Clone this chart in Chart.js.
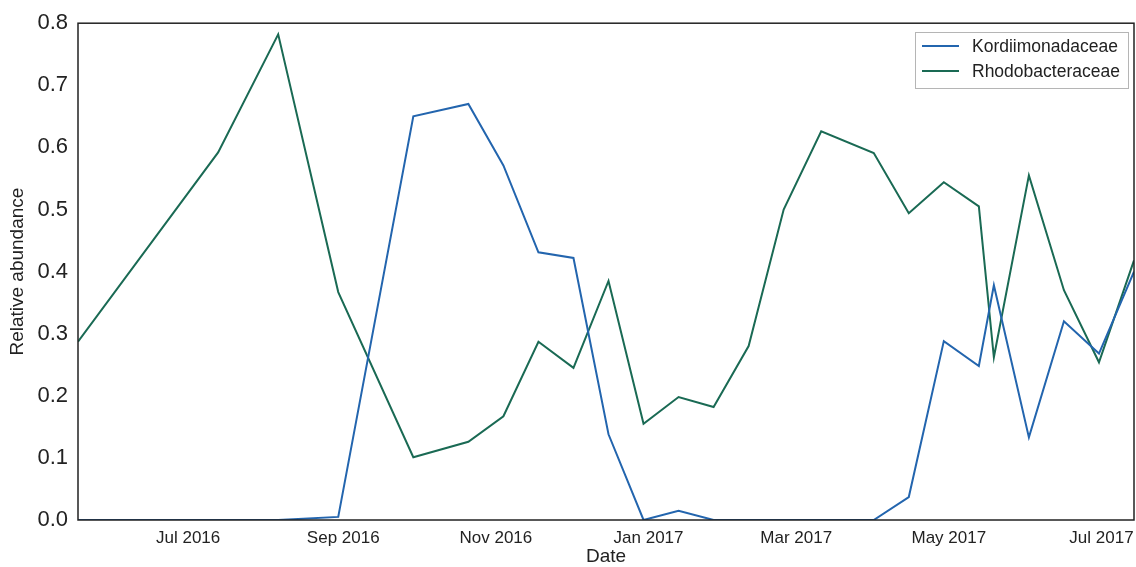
<!DOCTYPE html>
<html>
<head>
<meta charset="utf-8">
<script src="https://cdn.jsdelivr.net/npm/chart.js@4.4.1/dist/chart.umd.min.js"></script>
<style>
html,body{margin:0;padding:0;background:#fff;}
#wrap{width:1136px;height:567px;position:relative;}
</style>
</head>
<body>
<div id="wrap"><canvas id="c"></canvas></div>
<script>
// ---- data ----
const sampleDates = [
  '2016-05-18','2016-07-13','2016-08-06','2016-08-30','2016-09-29','2016-10-21',
  '2016-11-04','2016-11-18','2016-12-02','2016-12-16','2016-12-30','2017-01-13',
  '2017-01-27','2017-02-10','2017-02-24','2017-03-11','2017-04-01','2017-04-15',
  '2017-04-29','2017-05-13','2017-05-19','2017-06-02','2017-06-16','2017-06-30',
  '2017-07-14'
];
const kordiimonadaceae = [
  0.0, 0.0, 0.0, 0.005, 0.65, 0.67,
  0.571, 0.431, 0.422, 0.138, 0.0, 0.015,
  0.0, 0.0, 0.0, 0.0, 0.0, 0.037,
  0.288, 0.248, 0.378, 0.133, 0.32, 0.268,
  0.40
];
const rhodobacteraceae = [
  0.287, 0.592, 0.782, 0.367, 0.101, 0.126,
  0.167, 0.287, 0.245, 0.385, 0.155, 0.198,
  0.182, 0.28, 0.50, 0.626, 0.591, 0.494,
  0.544, 0.505, 0.262, 0.555, 0.37, 0.254,
  0.418
];
const seriesNames = ['Kordiimonadaceae', 'Rhodobacteraceae'];
const seriesColors = ['#2365ae', '#1a6a54'];
const tickDates = ['2016-07-01','2016-09-01','2016-11-01','2017-01-01','2017-03-01','2017-05-01','2017-07-01'];
const tickLabels = ['Jul 2016','Sep 2016','Nov 2016','Jan 2017','Mar 2017','May 2017','Jul 2017'];
const yMin = 0, yMax = 0.8, yStep = 0.1;

// ---- helpers ----
function toDay(s){ const p = s.split('-').map(Number); return Date.UTC(p[0], p[1]-1, p[2]) / 86400000; }
const tickDays = tickDates.map(toDay);
function pts(values){ return sampleDates.map((d,i)=>({x: toDay(d), y: values[i]})); }

const FONT = '"Liberation Sans", Arial, Helvetica, sans-serif';
const INK = '#222';

const framePlugin = {
  id: 'frameAndLegend',
  afterDraw(chart){
    const ctx = chart.ctx, a = chart.chartArea;
    ctx.save();
    ctx.strokeStyle = INK;
    ctx.lineWidth = 1.5;
    ctx.strokeRect(a.left, a.top, a.right - a.left, a.bottom - a.top);
    // legend box
    const bx = 915, by = 32, bw = 213, bh = 56;
    ctx.fillStyle = '#fff';
    ctx.fillRect(bx, by, bw, bh);
    ctx.strokeStyle = '#b5b5b5';
    ctx.lineWidth = 1;
    ctx.strokeRect(bx + 0.5, by + 0.5, bw, bh);
    ctx.font = '17.5px ' + FONT;
    ctx.textBaseline = 'middle';
    ctx.textAlign = 'left';
    chart.data.datasets.forEach((ds, i) => {
      const y = 46 + i * 25;
      ctx.strokeStyle = ds.borderColor;
      ctx.lineWidth = 2;
      ctx.beginPath();
      ctx.moveTo(922, y);
      ctx.lineTo(959, y);
      ctx.stroke();
      ctx.fillStyle = INK;
      ctx.fillText(ds.label, 972, y + 1);
    });
    ctx.restore();
  }
};

new Chart(document.getElementById('c'), {
  type: 'line',
  data: {
    datasets: [
      { label: seriesNames[0], data: pts(kordiimonadaceae), borderColor: seriesColors[0], backgroundColor: seriesColors[0],
        borderWidth: 2, pointRadius: 0, tension: 0, fill: false },
      { label: seriesNames[1], data: pts(rhodobacteraceae), borderColor: seriesColors[1], backgroundColor: seriesColors[1],
        borderWidth: 2, pointRadius: 0, tension: 0, fill: false }
    ]
  },
  options: {
    responsive: true,
    maintainAspectRatio: false,
    animation: false,
    layout: { padding: { top: 23, right: 2, left: 0, bottom: 0 } },
    plugins: { legend: { display: false }, tooltip: { enabled: false } },
    scales: {
      x: {
        type: 'linear',
        min: toDay(sampleDates[0]),
        max: toDay(sampleDates[sampleDates.length - 1]),
        grid: { display: false, drawTicks: false },
        border: { display: false },
        afterBuildTicks: (axis) => { axis.ticks = tickDays.map(v => ({ value: v })); },
        ticks: {
          autoSkip: false, maxRotation: 0, padding: 8,
          font: { family: FONT, size: 17 }, color: INK,
          callback: (v) => { const i = tickDays.indexOf(v); return i >= 0 ? tickLabels[i] : ''; }
        },
        title: { display: true, text: 'Date', font: { family: FONT, size: 19, lineHeight: 1.0 }, color: INK, padding: { top: 0, bottom: 1 } },
        afterFit: (s) => { s.height = 47; s.paddingLeft = 0; s.paddingRight = 0; }
      },
      y: {
        min: yMin, max: yMax,
        grid: { display: false, drawTicks: false },
        border: { display: false },
        ticks: {
          stepSize: yStep, padding: 10,
          font: { family: FONT, size: 22 }, color: INK,
          callback: (v) => Number(v).toFixed(1)
        },
        title: { display: true, text: 'Relative abundance', font: { family: FONT, size: 19 }, color: INK, padding: { top: 6, bottom: 0 } },
        afterFit: (s) => { s.width = 78; }
      }
    }
  },
  plugins: [framePlugin]
});
</script>
</body>
</html>
